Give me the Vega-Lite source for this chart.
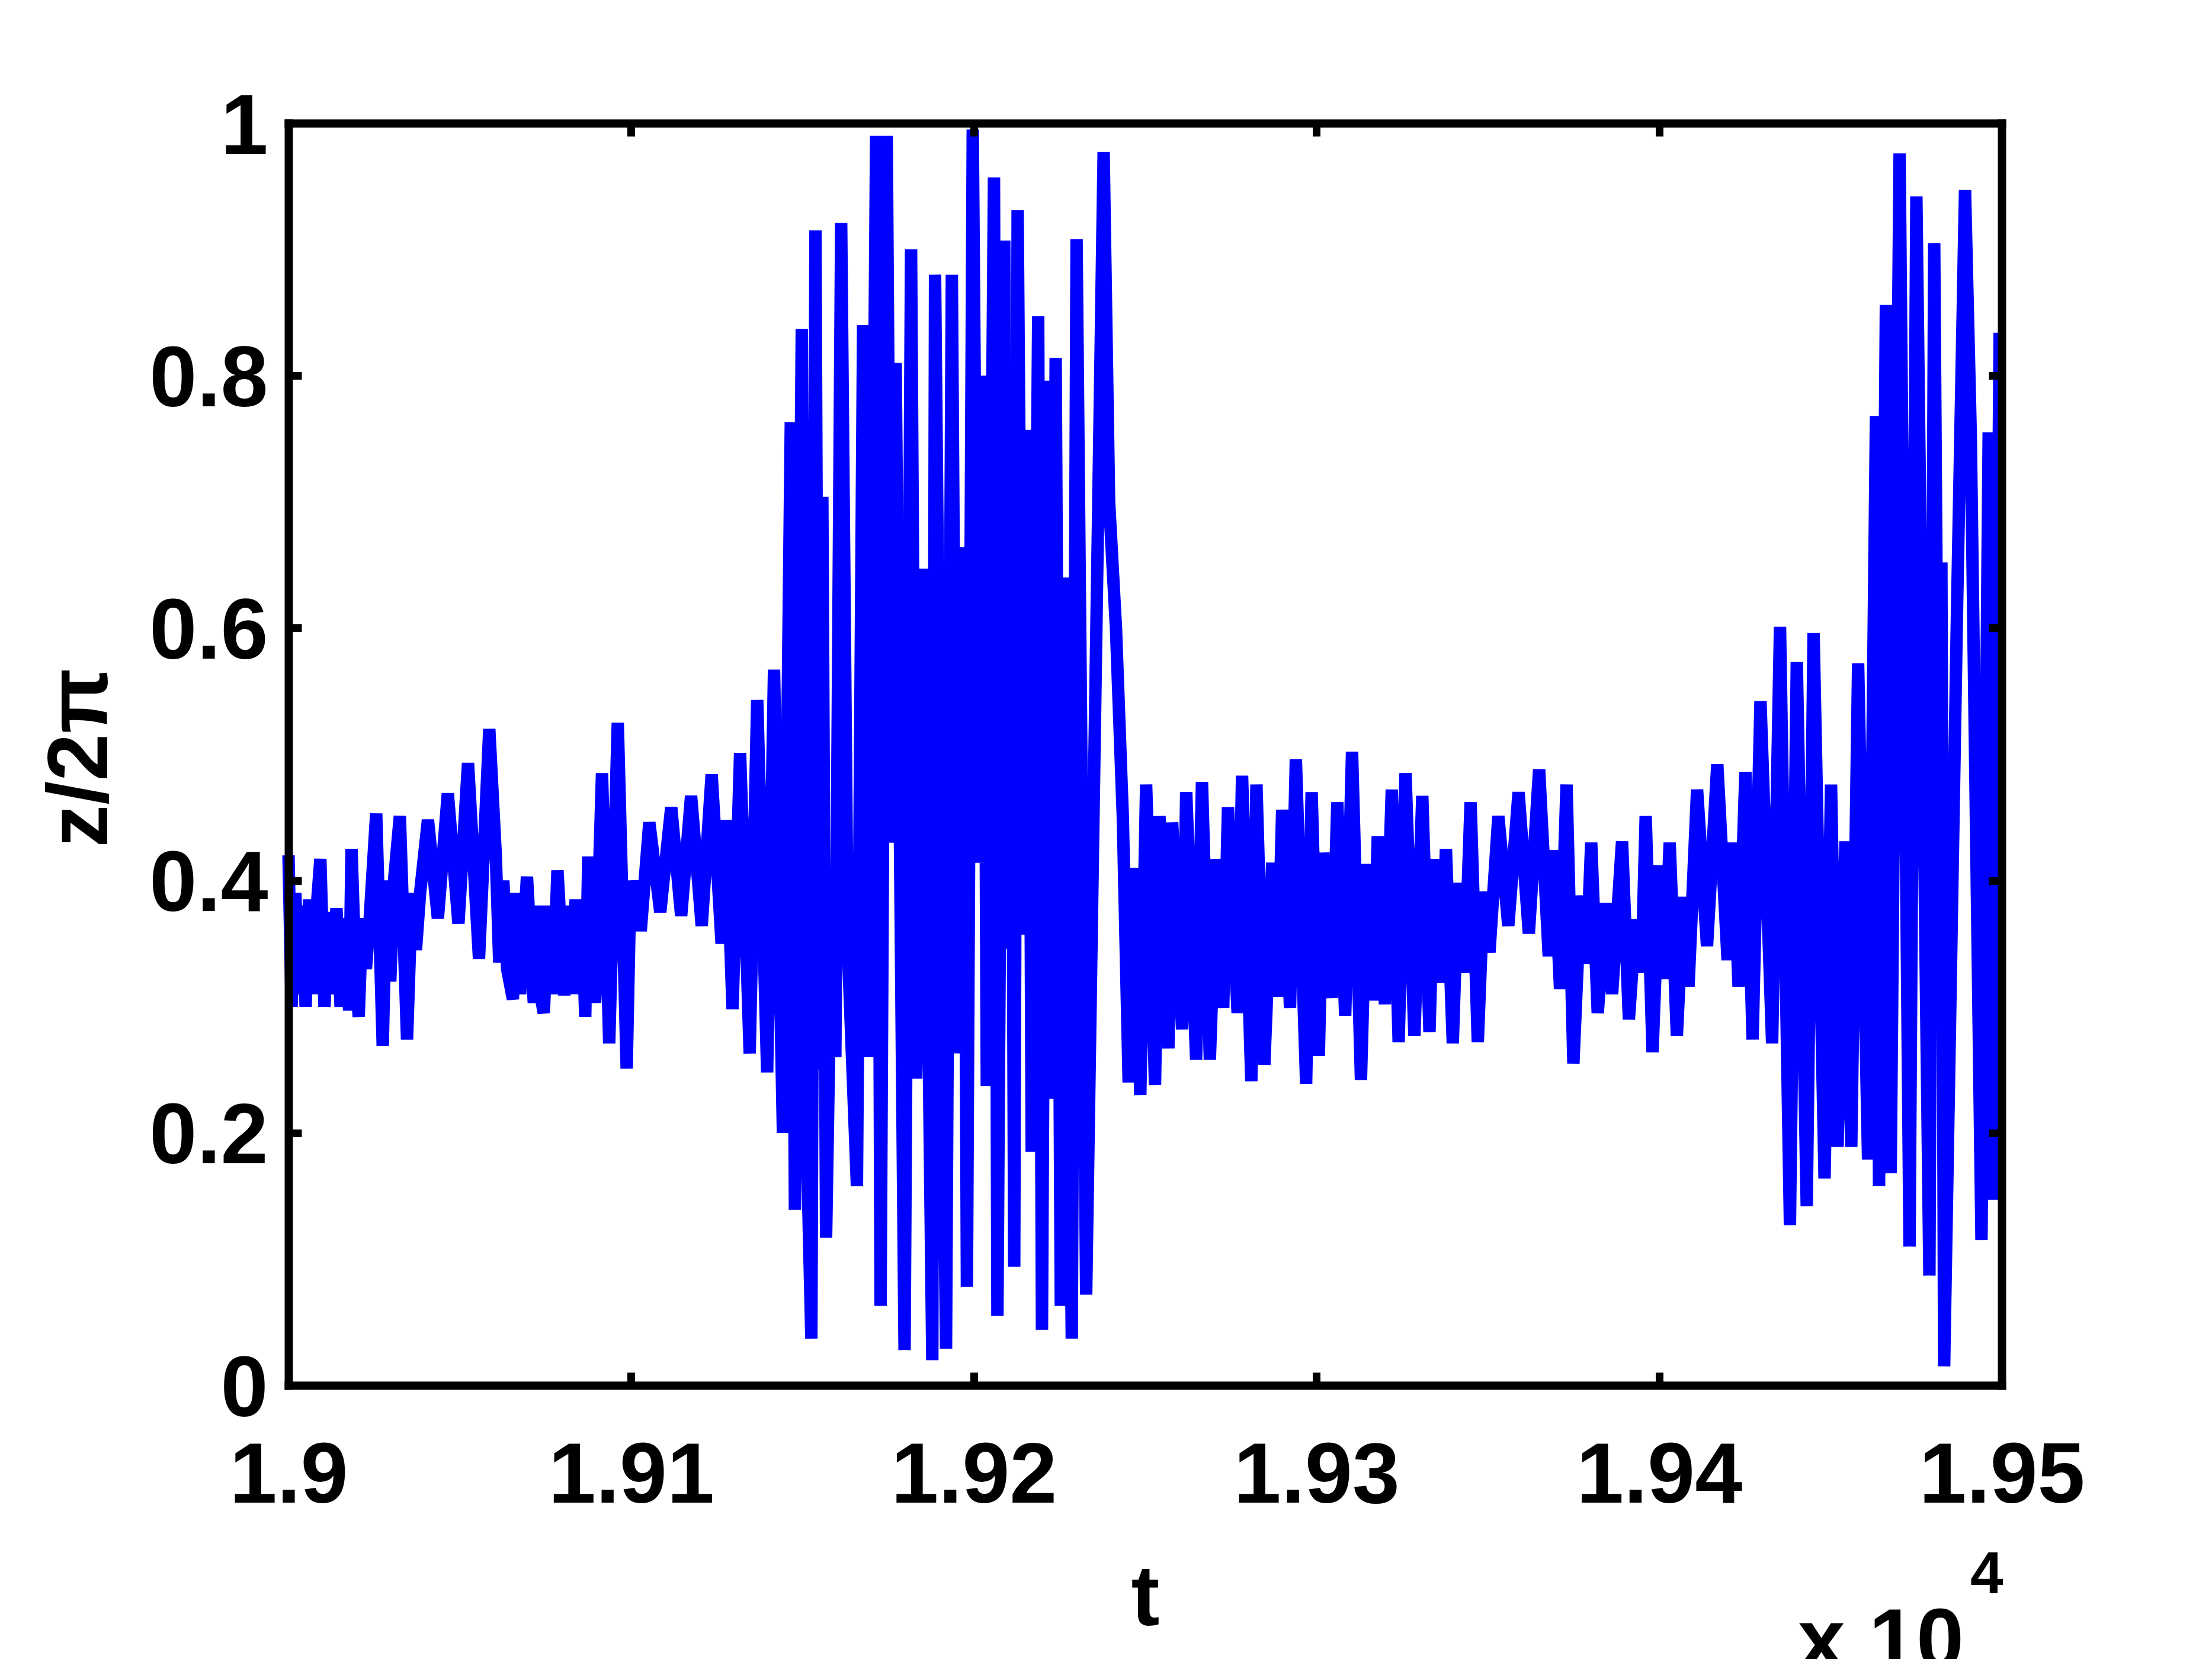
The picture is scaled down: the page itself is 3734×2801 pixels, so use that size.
{
"$schema": "https://vega.github.io/schema/vega-lite/v6.json",
"autosize": "none",
"width": 2892,
"height": 2131,
"padding": {"left": 487, "top": 208, "right": 355, "bottom": 462},
"background": "white",
"config": {"view": {"stroke": null}, "font": "Liberation Sans"},
"datasets": {
"series": [
{"t":19000,"z":0.42},{"t":19000.9,"z":0.30},{"t":19002,"z":0.39},{"t":19003,"z":0.31},{"t":19004,"z":0.38},{"t":19005,"z":0.30},{"t":19006,"z":0.385},{"t":19007,"z":0.31},{"t":19008,"z":0.37},{"t":19009.3,"z":0.417},
{"t":19010.5,"z":0.30},{"t":19011.7,"z":0.375},{"t":19012.8,"z":0.31},{"t":19014,"z":0.378},{"t":19015.2,"z":0.30},{"t":19016.4,"z":0.37},{"t":19017.7,"z":0.297},{"t":19018.4,"z":0.425},{"t":19019.5,"z":0.33},{"t":19020.5,"z":0.292},
{"t":19021.5,"z":0.37},{"t":19022.6,"z":0.33},{"t":19023.7,"z":0.37},{"t":19025.6,"z":0.453},{"t":19027.5,"z":0.269},{"t":19028.6,"z":0.40},{"t":19029.7,"z":0.32},{"t":19030.8,"z":0.40},{"t":19032.5,"z":0.451},{"t":19034.6,"z":0.274},
{"t":19036,"z":0.39},{"t":19037.2,"z":0.345},{"t":19038.4,"z":0.39},{"t":19040.7,"z":0.448},{"t":19043.6,"z":0.37},{"t":19046.5,"z":0.469},{"t":19049.6,"z":0.366},{"t":19052.4,"z":0.493},{"t":19055.6,"z":0.338},{"t":19058.6,"z":0.52},
{"t":19060.5,"z":0.42},{"t":19061.5,"z":0.335},{"t":19062.7,"z":0.40},{"t":19063.8,"z":0.33},{"t":19065.5,"z":0.306},{"t":19066.5,"z":0.39},{"t":19067.6,"z":0.31},{"t":19069.6,"z":0.403},{"t":19071.6,"z":0.303},{"t":19072.6,"z":0.38},
{"t":19073.5,"z":0.31},{"t":19074.5,"z":0.295},{"t":19076,"z":0.38},{"t":19077.2,"z":0.31},{"t":19078.5,"z":0.408},{"t":19080.5,"z":0.309},{"t":19081.6,"z":0.38},{"t":19082.7,"z":0.31},{"t":19083.8,"z":0.385},{"t":19084.8,"z":0.31},
{"t":19085.6,"z":0.38},{"t":19086.6,"z":0.292},{"t":19087.5,"z":0.419},{"t":19088.5,"z":0.33},{"t":19089.5,"z":0.303},{"t":19091.5,"z":0.485},{"t":19093.6,"z":0.271},{"t":19096.1,"z":0.525},{"t":19098.7,"z":0.251},{"t":19099.8,"z":0.40},
{"t":19100.8,"z":0.36},{"t":19101.8,"z":0.40},{"t":19102.8,"z":0.36},{"t":19105.3,"z":0.446},{"t":19108.5,"z":0.375},{"t":19111.7,"z":0.458},{"t":19114.6,"z":0.372},{"t":19117.5,"z":0.467},{"t":19120.6,"z":0.364},{"t":19123.5,"z":0.484},
{"t":19126.4,"z":0.35},{"t":19127.7,"z":0.448},{"t":19129.6,"z":0.298},{"t":19131.8,"z":0.501},{"t":19134.6,"z":0.263},{"t":19136.8,"z":0.543},{"t":19139.7,"z":0.248},{"t":19141.7,"z":0.567},{"t":19144.3,"z":0.20},{"t":19146.6,"z":0.763},
{"t":19147.8,"z":0.139},{"t":19149.8,"z":0.837},{"t":19151.2,"z":0.20},{"t":19152.6,"z":0.037},{"t":19153.8,"z":0.915},{"t":19154.8,"z":0.25},{"t":19155.8,"z":0.704},{"t":19156.9,"z":0.117},{"t":19158.6,"z":0.40},{"t":19159.6,"z":0.26},
{"t":19161.3,"z":0.921},{"t":19163.2,"z":0.35},{"t":19165.9,"z":0.158},{"t":19167.7,"z":0.84},{"t":19169.4,"z":0.26},{"t":19171.5,"z":0.99},{"t":19172.8,"z":0.063},{"t":19174.6,"z":0.99},{"t":19176,"z":0.43},{"t":19177.2,"z":0.81},
{"t":19179.8,"z":0.028},{"t":19181.7,"z":0.90},{"t":19183.2,"z":0.243},{"t":19185.2,"z":0.647},{"t":19187.9,"z":0.02},{"t":19188.7,"z":0.88},{"t":19190.4,"z":0.40},{"t":19191.9,"z":0.029},{"t":19193.6,"z":0.88},{"t":19195.1,"z":0.263},
{"t":19197.1,"z":0.664},{"t":19198,"z":0.078},{"t":19199.7,"z":0.995},{"t":19201.4,"z":0.414},{"t":19202.9,"z":0.80},{"t":19203.8,"z":0.237},{"t":19205.9,"z":0.957},{"t":19206.9,"z":0.055},{"t":19208.9,"z":0.907},{"t":19209.6,"z":0.346},
{"t":19210.9,"z":0.76},{"t":19211.8,"z":0.094},{"t":19212.8,"z":0.931},{"t":19214.4,"z":0.357},{"t":19216,"z":0.757},{"t":19216.9,"z":0.185},{"t":19218.8,"z":0.847},{"t":19219.9,"z":0.044},{"t":19221.3,"z":0.796},{"t":19222.6,"z":0.227},
{"t":19223.9,"z":0.814},{"t":19225.4,"z":0.063},{"t":19226.6,"z":0.64},{"t":19228.6,"z":0.037},{"t":19230,"z":0.908},{"t":19231.4,"z":0.50},{"t":19232.8,"z":0.072},{"t":19235.5,"z":0.55},{"t":19237.9,"z":0.977},{"t":19239.5,"z":0.70},
{"t":19241.5,"z":0.60},{"t":19243.5,"z":0.45},{"t":19245.2,"z":0.24},{"t":19246.8,"z":0.41},{"t":19248.6,"z":0.23},{"t":19250.3,"z":0.476},{"t":19252.9,"z":0.238},{"t":19254.2,"z":0.451},{"t":19256.8,"z":0.267},{"t":19257.9,"z":0.446},
{"t":19260.8,"z":0.282},{"t":19262,"z":0.47},{"t":19264.9,"z":0.258},{"t":19266.6,"z":0.478},{"t":19268.9,"z":0.258},{"t":19270.9,"z":0.417},{"t":19272.8,"z":0.299},{"t":19274.2,"z":0.458},{"t":19277,"z":0.295},{"t":19278.3,"z":0.483},
{"t":19281,"z":0.241},{"t":19282.5,"z":0.476},{"t":19284.8,"z":0.254},{"t":19287.1,"z":0.414},{"t":19288.6,"z":0.308},{"t":19290,"z":0.456},{"t":19292.3,"z":0.299},{"t":19294,"z":0.496},{"t":19297,"z":0.239},{"t":19298.6,"z":0.47},
{"t":19300.7,"z":0.261},{"t":19302,"z":0.422},{"t":19304.5,"z":0.307},{"t":19306.1,"z":0.462},{"t":19308.4,"z":0.293},{"t":19310.4,"z":0.502},{"t":19313,"z":0.242},{"t":19314.7,"z":0.413},{"t":19316.6,"z":0.305},{"t":19317.9,"z":0.435},
{"t":19320,"z":0.302},{"t":19322,"z":0.472},{"t":19324,"z":0.272},{"t":19326,"z":0.485},{"t":19328.6,"z":0.277},{"t":19330.9,"z":0.467},{"t":19333,"z":0.28},{"t":19334.4,"z":0.417},{"t":19336.4,"z":0.319},{"t":19337.8,"z":0.425},
{"t":19339.8,"z":0.271},{"t":19341.3,"z":0.398},{"t":19343.3,"z":0.327},{"t":19345,"z":0.462},{"t":19347.1,"z":0.272},{"t":19348.8,"z":0.391},{"t":19350.5,"z":0.343},{"t":19353.1,"z":0.451},{"t":19356,"z":0.364},{"t":19359,"z":0.47},
{"t":19362,"z":0.358},{"t":19365,"z":0.488},{"t":19367.8,"z":0.34},{"t":19369.3,"z":0.424},{"t":19371.1,"z":0.314},{"t":19373,"z":0.476},{"t":19375,"z":0.255},{"t":19377.1,"z":0.388},{"t":19378.8,"z":0.334},{"t":19380.2,"z":0.43},
{"t":19382.1,"z":0.295},{"t":19384.5,"z":0.382},{"t":19386.3,"z":0.31},{"t":19389.2,"z":0.431},{"t":19391.2,"z":0.29},{"t":19393.2,"z":0.369},{"t":19394.9,"z":0.327},{"t":19396.1,"z":0.451},{"t":19398.1,"z":0.264},{"t":19400.1,"z":0.412},
{"t":19401.5,"z":0.322},{"t":19403.1,"z":0.43},{"t":19405.2,"z":0.277},{"t":19407.1,"z":0.387},{"t":19408.6,"z":0.316},{"t":19411.1,"z":0.472},{"t":19414,"z":0.348},{"t":19417,"z":0.492},{"t":19420,"z":0.337},{"t":19421.6,"z":0.43},
{"t":19423.2,"z":0.316},{"t":19425.2,"z":0.486},{"t":19427.3,"z":0.274},{"t":19429.6,"z":0.542},{"t":19433,"z":0.271},{"t":19435.3,"z":0.601},{"t":19438.2,"z":0.127},{"t":19440.2,"z":0.573},{"t":19443.1,"z":0.142},{"t":19445.1,"z":0.596},
{"t":19448.3,"z":0.164},{"t":19450.2,"z":0.476},{"t":19452.1,"z":0.189},{"t":19454.4,"z":0.431},{"t":19456.1,"z":0.189},{"t":19458.1,"z":0.572},{"t":19461,"z":0.179},{"t":19463.3,"z":0.768},{"t":19464.2,"z":0.158},{"t":19466.2,"z":0.856},
{"t":19467.6,"z":0.168},{"t":19470.2,"z":0.976},{"t":19473.1,"z":0.11},{"t":19475.1,"z":0.942},{"t":19478.9,"z":0.087},{"t":19480.3,"z":0.905},{"t":19481.6,"z":0.40},{"t":19482.4,"z":0.652},{"t":19483.2,"z":0.015},{"t":19485,"z":0.30},
{"t":19487,"z":0.62},{"t":19489.3,"z":0.947},{"t":19491,"z":0.75},{"t":19494.1,"z":0.115},{"t":19496.2,"z":0.755},{"t":19497.4,"z":0.147},{"t":19499.4,"z":0.834}
],
"frame": [{"t": 19000, "z": 0}],
"note": [{"base": "x 10", "exp": "4"}]
},
"resolve": {"axis": {"x": "independent", "y": "independent"}},
"layer": [
{
"data": {"name": "series"},
"mark": {"type": "line", "color": "#0000ff", "strokeWidth": 21, "strokeJoin": "miter"},
"encoding": {
"x": {"field": "t", "type": "quantitative", "scale": {"domain": [19000, 19500], "nice": false, "zero": false},
"axis": {"orient": "bottom", "values": [19000, 19100, 19200, 19300, 19400, 19500], "labelExpr": "format(datum.value/10000, '.2~f')",
"domain": true, "domainColor": "black", "domainWidth": 14, "domainCap": "square",
"ticks": true, "tickSize": -22, "tickWidth": 13, "tickColor": "black",
"labelFont": "Liberation Sans", "labelFontWeight": "bold", "labelFontSize": 144, "labelColor": "black", "labelPadding": 219, "labelBaseline": "alphabetic", "labelFlush": false, "labelOverlap": false, "labelBound": false, "labelLimit": 2000,
"grid": false, "title": "t", "titleFont": "Liberation Sans", "titleFontWeight": "bold", "titleFontSize": 144, "titleColor": "black", "titleY": 404, "titleBaseline": "alphabetic", "zindex": 1}},
"y": {"field": "z", "type": "quantitative", "scale": {"domain": [0, 1], "nice": false},
"axis": {"orient": "left", "values": [0, 0.2, 0.4, 0.6, 0.8, 1], "labelExpr": "format(datum.value, '~g')",
"domain": true, "domainColor": "black", "domainWidth": 14, "domainCap": "square",
"ticks": true, "tickSize": -22, "tickWidth": 13, "tickColor": "black",
"labelFont": "Liberation Sans", "labelFontWeight": "bold", "labelFontSize": 144, "labelColor": "black", "labelPadding": 57, "labelBaseline": "middle", "labelOffset": 8, "labelFlush": false, "labelOverlap": false, "labelBound": false, "labelLimit": 2000,
"grid": false, "title": "z/2π", "titleFont": "Liberation Sans", "titleFontWeight": "bold", "titleFontSize": 144, "titleColor": "black", "titleX": -350, "titleY": 1071, "titleAngle": -90, "titleAlign": "center", "titleBaseline": "middle", "titleLimit": 2000, "zindex": 1}}
}
},
{
"data": {"name": "frame"},
"mark": {"type": "point", "opacity": 0},
"encoding": {
"x": {"field": "t", "type": "quantitative",
"axis": {"orient": "top", "values": [19000, 19100, 19200, 19300, 19400, 19500], "labels": false, "title": null,
"domain": true, "domainColor": "black", "domainWidth": 14, "domainCap": "square",
"ticks": true, "tickSize": -22, "tickWidth": 13, "tickColor": "black", "grid": false, "zindex": 1}},
"y": {"field": "z", "type": "quantitative",
"axis": {"orient": "right", "values": [0, 0.2, 0.4, 0.6, 0.8, 1], "labels": false, "title": null,
"domain": true, "domainColor": "black", "domainWidth": 14, "domainCap": "square",
"ticks": true, "tickSize": -22, "tickWidth": 13, "tickColor": "black", "grid": false, "zindex": 1}}
}
},
{
"data": {"name": "note"},
"mark": {"type": "text", "align": "right", "baseline": "alphabetic", "dx": -64, "dy": 478, "font": "Liberation Sans", "fontWeight": "bold", "fontSize": 144, "color": "black"},
"encoding": {
"x": {"datum": 19500, "type": "quantitative", "axis": null},
"y": {"datum": 0, "type": "quantitative", "axis": null},
"text": {"field": "base"}
}
},
{
"data": {"name": "note"},
"mark": {"type": "text", "align": "left", "baseline": "alphabetic", "dx": -53, "dy": 351, "font": "Liberation Sans", "fontWeight": "bold", "fontSize": 100, "color": "black"},
"encoding": {
"x": {"datum": 19500, "type": "quantitative", "axis": null},
"y": {"datum": 0, "type": "quantitative", "axis": null},
"text": {"field": "exp"}
}
}
]
}
